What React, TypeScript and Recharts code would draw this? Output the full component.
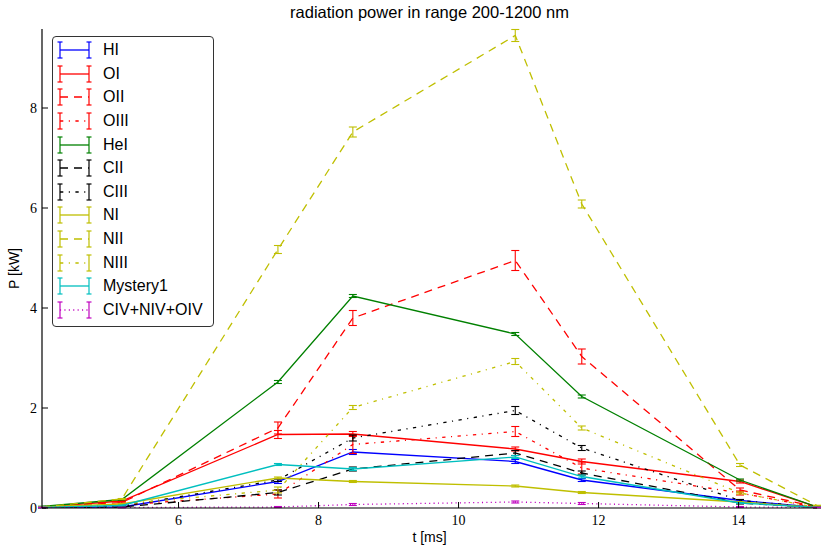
import React from 'react';
import { LineChart, Line, XAxis, YAxis, ErrorBar, Legend } from 'recharts';

// time points [ms]
const T_MS = [4.05, 5.19, 7.42, 8.49, 10.81, 11.76, 14.02, 15.12];

// radiated power [kW] and its error, per line
const HI = [0.01, 0.02, 0.53, 1.12, 0.93, 0.56, 0.15, 0.01];
const HI_ERR = [0.005, 0.01, 0.04, 0.05, 0.04, 0.03, 0.02, 0.005];
const OI = [0.02, 0.14, 1.47, 1.48, 1.18, 0.93, 0.53, 0.02];
const OI_ERR = [0.005, 0.01, 0.08, 0.05, 0.04, 0.05, 0.03, 0.005];
const OII = [0.02, 0.11, 1.6, 3.8, 4.95, 3.03, 0.36, 0.02];
const OII_ERR = [0.005, 0.01, 0.12, 0.15, 0.2, 0.15, 0.04, 0.005];
const OIII = [0.01, 0.06, 0.28, 1.27, 1.53, 0.8, 0.3, 0.01];
const OIII_ERR = [0.005, 0.01, 0.08, 0.18, 0.1, 0.12, 0.04, 0.005];
const HEI = [0.03, 0.17, 2.52, 4.24, 3.48, 2.23, 0.56, 0.02];
const HEI_ERR = [0.005, 0.01, 0.03, 0.03, 0.03, 0.03, 0.02, 0.005];
const CII = [0.01, 0.02, 0.31, 0.78, 1.1, 0.7, 0.1, 0.01];
const CII_ERR = [0.005, 0.01, 0.05, 0.04, 0.05, 0.04, 0.02, 0.005];
const CIII = [0.01, 0.03, 0.56, 1.4, 1.95, 1.2, 0.15, 0.01];
const CIII_ERR = [0.005, 0.01, 0.03, 0.06, 0.08, 0.05, 0.02, 0.005];
const NI = [0.02, 0.08, 0.6, 0.53, 0.44, 0.31, 0.12, 0.01];
const NI_ERR = [0.005, 0.01, 0.02, 0.02, 0.02, 0.02, 0.01, 0.005];
const NII = [0.02, 0.18, 5.17, 7.52, 9.45, 6.08, 0.86, 0.05];
const NII_ERR = [0.005, 0.01, 0.08, 0.1, 0.12, 0.08, 0.03, 0.005];
const NIII = [0.01, 0.08, 0.36, 2.01, 2.93, 1.6, 0.3, 0.01];
const NIII_ERR = [0.005, 0.01, 0.06, 0.04, 0.06, 0.04, 0.02, 0.005];
const MYSTERY1 = [0.01, 0.05, 0.87, 0.78, 1.02, 0.63, 0.1, 0.01];
const MYSTERY1_ERR = [0.005, 0.01, 0.02, 0.03, 0.03, 0.03, 0.01, 0.005];
const CNO_IV = [0.01, 0.01, 0.02, 0.07, 0.12, 0.09, 0.02, 0.01];
const CNO_IV_ERR = [0.005, 0.005, 0.01, 0.02, 0.02, 0.02, 0.01, 0.005];

const X_TICKS = [6, 8, 10, 12, 14];
const Y_TICKS = [0, 2, 4, 6, 8];
const X_DOMAIN = [4.05, 15.12];
const Y_DOMAIN = [0, 9.58];

const DASHED = '8 6';
const DASHDOT = '3.3 5.5 1.1 5.5';
const DOTTED = '1.1 3.3';

const SERIES = [
  { name: 'HI', values: HI, errors: HI_ERR, color: '#0000ff', dash: undefined },
  { name: 'OI', values: OI, errors: OI_ERR, color: '#ff0000', dash: undefined },
  { name: 'OII', values: OII, errors: OII_ERR, color: '#ff0000', dash: DASHED },
  { name: 'OIII', values: OIII, errors: OIII_ERR, color: '#ff0000', dash: DASHDOT },
  { name: 'HeI', values: HEI, errors: HEI_ERR, color: '#008000', dash: undefined },
  { name: 'CII', values: CII, errors: CII_ERR, color: '#000000', dash: DASHED },
  { name: 'CIII', values: CIII, errors: CIII_ERR, color: '#000000', dash: DASHDOT },
  { name: 'NI', values: NI, errors: NI_ERR, color: '#bfbf00', dash: undefined },
  { name: 'NII', values: NII, errors: NII_ERR, color: '#bfbf00', dash: DASHED },
  { name: 'NIII', values: NIII, errors: NIII_ERR, color: '#bfbf00', dash: DASHDOT },
  { name: 'Mystery1', values: MYSTERY1, errors: MYSTERY1_ERR, color: '#00bfbf', dash: undefined },
  { name: 'CIV+NIV+OIV', values: CNO_IV, errors: CNO_IV_ERR, color: '#bf00bf', dash: DOTTED },
];

const rows = T_MS.map((t, i) => {
  const row: Record<string, number> = { t };
  SERIES.forEach(s => {
    row[s.name] = s.values[i];
    row[s.name + '_err'] = s.errors[i];
  });
  return row;
});

const SANS = '"Liberation Sans", Arial, sans-serif';
const SERIF = '"Liberation Serif", "Times New Roman", serif';
const tickStyle = { fill: '#000', fontFamily: SERIF, fontSize: 14 };
const frame = { stroke: '#000', strokeWidth: 1.2 };

function LegendBox() {
  return (
    <div
      style={{
        width: 162,
        height: 291,
        boxSizing: 'border-box',
        border: '1px solid #333',
        borderRadius: 4,
        background: '#fff',
        paddingTop: 1.5,
      }}
    >
      {SERIES.map(s => (
        <div key={s.name} style={{ height: 23.6, display: 'flex', alignItems: 'center' }}>
          <svg width={50} height={20} style={{ flex: 'none' }}>
            <line x1={7} y1={10} x2={36} y2={10} stroke={s.color} strokeWidth={1.3} strokeDasharray={s.dash} />
            {[7, 36].map(x => (
              <g key={x} stroke={s.color} strokeWidth={1.2}>
                <line x1={x} y1={2} x2={x} y2={18} />
                <line x1={x - 2.5} y1={2} x2={x + 2.5} y2={2} />
                <line x1={x - 2.5} y1={18} x2={x + 2.5} y2={18} />
              </g>
            ))}
          </svg>
          <span style={{ fontFamily: SANS, fontSize: 16, color: '#000', whiteSpace: 'nowrap' }}>{s.name}</span>
        </div>
      ))}
    </div>
  );
}

export default function App() {
  return (
    <div style={{ position: 'absolute', left: 0, top: 0, width: 827, height: 556, background: '#fff' }}>
      <div
        style={{
          position: 'absolute',
          left: 42,
          width: 775,
          top: 3,
          textAlign: 'center',
          fontFamily: SANS,
          fontSize: 16.5,
          lineHeight: '18px',
          color: '#000',
        }}
      >
        radiation power in range 200-1200 nm
      </div>
      <LineChart width={827} height={556} data={rows} margin={{ top: 29, right: 10, bottom: 0, left: 0 }}>
        <XAxis
          dataKey="t"
          type="number"
          domain={X_DOMAIN}
          allowDataOverflow
          ticks={X_TICKS}
          interval={0}
          height={48}
          tickSize={-6}
          tickMargin={13}
          tick={tickStyle}
          axisLine={frame}
          tickLine={{ stroke: '#000' }}
          label={{ value: 't [ms]', position: 'insideBottom', offset: 14, style: { fill: '#000', fontFamily: SANS, fontSize: 14 } }}
        />
        <XAxis
          xAxisId="top"
          orientation="top"
          dataKey="t"
          type="number"
          domain={X_DOMAIN}
          allowDataOverflow
          ticks={X_TICKS}
          interval={0}
          height={0}
          tickSize={-6}
          tick={false}
          axisLine={frame}
          tickLine={{ stroke: '#000' }}
        />
        <YAxis
          type="number"
          domain={Y_DOMAIN}
          allowDataOverflow
          ticks={Y_TICKS}
          interval={0}
          width={42}
          tickSize={-6}
          tickMargin={11}
          tick={tickStyle}
          axisLine={frame}
          tickLine={{ stroke: '#000' }}
          label={{
            value: 'P [kW]',
            angle: -90,
            position: 'insideLeft',
            offset: 14,
            style: { textAnchor: 'middle', fill: '#000', fontFamily: SANS, fontSize: 14 },
          }}
        />
        <YAxis
          yAxisId="right"
          orientation="right"
          type="number"
          domain={Y_DOMAIN}
          allowDataOverflow
          ticks={Y_TICKS}
          interval={0}
          width={0}
          tickSize={-6}
          tick={false}
          axisLine={frame}
          tickLine={{ stroke: '#000' }}
        />
        {SERIES.map(s => (
          <Line
            key={s.name}
            dataKey={s.name}
            type="linear"
            stroke={s.color}
            strokeWidth={1.3}
            strokeDasharray={s.dash}
            dot={false}
            activeDot={false}
            isAnimationActive={false}
          >
            <ErrorBar dataKey={s.name + '_err'} direction="y" width={4} stroke={s.color} strokeWidth={1.1} />
          </Line>
        ))}
        <Legend
          layout="vertical"
          align="center"
          verticalAlign="middle"
          wrapperStyle={{ left: 52, top: 36, width: 162, height: 291 }}
          content={() => <LegendBox />}
        />
      </LineChart>
    </div>
  );
}
